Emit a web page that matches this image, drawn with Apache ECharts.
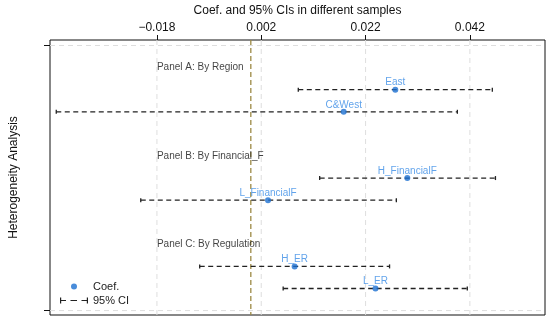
<!DOCTYPE html>
<html>
<head>
<meta charset="utf-8">
<script src="https://cdn.jsdelivr.net/npm/echarts@6/dist/echarts.min.js"></script>
<style>html,body{margin:0;padding:0;background:#fff}#c{width:550px;height:322px}</style>
</head>
<body>
<div id="c"></div>
<script>
// ---- data ----
var names = ['East', 'C&West', 'H_FinancialF', 'L_FinancialF', 'H_ER', 'L_ER'];
var coef  = [0.0277, 0.0178, 0.0300, 0.0033, 0.0084, 0.0239];
var ciLow = [0.0091, -0.0373, 0.0132, -0.0211, -0.0098, 0.0062];
var ciHigh= [0.0463, 0.0396, 0.0469, 0.0279, 0.0266, 0.0415];
var rowOf = [2, 3, 6, 7, 10, 11];
var panelNames = ['Panel A: By Region', 'Panel B: By Financial_F', 'Panel C: By Regulation'];
var panelRow = [1, 5, 9];
var panelX = -0.018;
var xTicks = [-0.018, 0.002, 0.022, 0.042];
var yTicks = [0, 12];
var refLine = 0;

var FONT = '"Liberation Sans", Arial, Helvetica, sans-serif';
function fmt(v){ return v.toFixed(3).replace('-', '\u2212'); }

var ciData = names.map(function(n,i){ return [ciLow[i], ciHigh[i], rowOf[i], n]; });
var coefData = names.map(function(n,i){ return {value:[coef[i], rowOf[i]], name:n}; });
var panelData = panelNames.map(function(n,i){ return {value:[panelX, panelRow[i]], name:n}; });
// grid lines: [kind, value]  kind 0 = vertical (x value), 1 = horizontal (y value)
var gridData = xTicks.map(function(v){ return [0, v]; }).concat(yTicks.map(function(v){ return [1, v]; }));

var chart = echarts.init(document.getElementById('c'), null, {renderer:'canvas'});
chart.setOption({
  animation:false,
  textStyle:{fontFamily:FONT},
  grid:{left:50, right:5, top:40, bottom:7, show:true, borderColor:'#111', borderWidth:1, backgroundColor:'transparent'},
  xAxis:{
    type:'value', position:'top', min:-0.0385, max:0.0564,
    name:'Coef. and 95% CIs in different samples', nameLocation:'middle', nameGap:22,
    nameTextStyle:{fontSize:12, color:'#111', fontFamily:FONT},
    axisLine:{show:false, onZero:false},
    axisTick:{show:true, inside:false, length:5, lineStyle:{color:'#111'}, customValues:xTicks},
    axisLabel:{show:true, margin:6, fontSize:12, color:'#111', fontFamily:FONT, customValues:xTicks, formatter:fmt},
    splitLine:{show:false},
    minorSplitLine:{show:false}
  },
  yAxis:{
    type:'value', inverse:true, min:-0.25, max:12.2,
    name:'Heterogeneity Analysis', nameLocation:'middle', nameGap:30,
    nameTextStyle:{fontSize:12, color:'#111', fontFamily:FONT},
    axisLine:{show:false, onZero:false},
    axisTick:{show:true, inside:false, length:6, lineStyle:{color:'#111'}, customValues:yTicks},
    axisLabel:{show:false},
    splitLine:{show:false},
    minorSplitLine:{show:false}
  },
  legend:{
    orient:'vertical', left:55, top:276, padding:5, itemGap:3,
    itemWidth:28, itemHeight:6,
    textStyle:{fontSize:11, color:'#222', fontFamily:FONT},
    data:[
      {name:'Coef.', icon:'circle'},
      {name:'95% CI', icon:'path://M0,0H1.2V6H0Z M26.8,0H28V6H26.8Z M0,2.4H6V3.6H0Z M10.5,2.4H17V3.6H10.5Z M21.5,2.4H28V3.6H21.5Z'}
    ]
  },
  series:[
    {
      type:'custom', name:'grid', silent:true,
      data:gridData,
      renderItem:function(params, api){
        var cs = params.coordSys;
        var kind = api.value(0), v = api.value(1);
        var shape;
        if (kind === 0) {
          var x = api.coord([v, 0])[0];
          shape = {x1:x, y1:cs.y, x2:x, y2:cs.y + cs.height};
        } else {
          var y = api.coord([0, v])[1];
          shape = {x1:cs.x, y1:y, x2:cs.x + cs.width, y2:y};
        }
        return {type:'line', shape:shape, style:{stroke:'#dedede', lineWidth:1, lineDash:[5,4]}};
      },
      z:1
    },
    {
      type:'custom', name:'ref', silent:true,
      data:[[refLine]],
      renderItem:function(params, api){
        var cs = params.coordSys;
        var x = api.coord([api.value(0), 0])[0];
        return {type:'line', shape:{x1:x, y1:cs.y, x2:x, y2:cs.y + cs.height},
                style:{stroke:'#9c8a44', lineWidth:1.3, lineDash:[5,3]}};
      },
      z:2
    },
    {
      type:'custom', name:'95% CI', silent:true,
      itemStyle:{color:'#222'},
      data:ciData,
      encode:{x:[0,1], y:2},
      renderItem:function(params, api){
        var a = api.coord([api.value(0), api.value(2)]);
        var b = api.coord([api.value(1), api.value(2)]);
        var st = {stroke:'#222', lineWidth:1.3};
        return {type:'group', children:[
          {type:'line', shape:{x1:a[0], y1:a[1], x2:b[0], y2:b[1]}, style:{stroke:'#222', lineWidth:1.3, lineDash:[5,3.5]}},
          {type:'line', shape:{x1:a[0], y1:a[1]-2, x2:a[0], y2:a[1]+2}, style:st},
          {type:'line', shape:{x1:b[0], y1:b[1]-2, x2:b[0], y2:b[1]+2}, style:st}
        ]};
      },
      z:3
    },
    {
      type:'scatter', name:'Coef.', symbol:'circle', symbolSize:6,
      itemStyle:{color:'#1c6fd1'},
      data:coefData,
      label:{show:true, position:'top', distance:-1, fontSize:10, color:'#3a8ce6', fontFamily:FONT,
             formatter:function(p){ return p.name; }},
      z:5
    },
    {
      type:'scatter', name:'panels', symbolSize:0, silent:true,
      data:panelData,
      label:{show:true, position:'right', distance:0, fontSize:10, color:'#111', fontFamily:FONT,
             formatter:function(p){ return p.name; }},
      z:4
    }
  ]
});
</script>
</body>
</html>
